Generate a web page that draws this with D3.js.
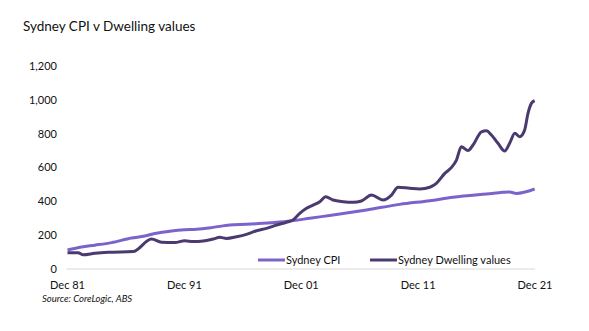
<!DOCTYPE html>
<html>
<head>
<meta charset="utf-8">
<script src="https://cdn.jsdelivr.net/npm/d3@7"></script>
<style>
    body { margin: 0; background: #fff; }
    svg text { font-family: Lato, "Open Sans", sans-serif; fill: #111; }
</style>
</head>
<body>
<svg id="chart"></svg>
<script>
// Sydney CPI, index (decimal year, value)
const cpiYears = [1981.96, 1983.16, 1984.30, 1985.72, 1987.44, 1988.57, 1989.43, 1990.86, 1991.99, 1993.00,
    1994.42, 1995.85, 1997.27, 1998.69, 2000.13, 2001.26, 2002.69, 2004.68, 2007.54, 2010.39,
    2012.96, 2014.95, 2017.80, 2019.79, 2020.37, 2021.93];
const cpiValues = [112, 130, 141, 156, 183, 195, 210, 225, 232, 235,
    246, 260, 264, 270, 278, 286, 300, 319, 349, 382,
    404, 424, 443, 455, 447, 473];

// Sydney dwelling values, index (decimal year, value)
const dwellingYears = [1981.96, 1982.87, 1983.30, 1984.30, 1985.43, 1987.57, 1989.15, 1990.00, 1991.14, 1991.99,
    1992.71, 1993.57, 1994.42, 1994.99, 1995.57, 1996.42, 1997.27, 1998.13, 1998.99, 1999.85,
    2000.69, 2001.26, 2001.83, 2002.41, 2002.97, 2003.55, 2004.05, 2004.68, 2005.54, 2006.40,
    2007.11, 2007.97, 2008.96, 2009.68, 2010.24, 2011.24, 2012.10, 2012.96, 2013.52, 2014.24,
    2014.82, 2015.24, 2015.66, 2016.23, 2016.66, 2017.38, 2017.80, 2018.23, 2018.79, 2019.37,
    2019.79, 2020.23, 2020.65, 2021.07, 2021.36, 2021.65, 2021.93];
const dwellingValues = [96, 96, 84, 93, 99, 103, 177, 158, 156, 167,
    162, 165, 177, 187, 181, 191, 205, 226, 240, 260,
    276, 290, 329, 359, 378, 398, 427, 408, 398, 394,
    402, 437, 408, 437, 483, 477, 473, 483, 506, 565,
    601, 644, 723, 700, 733, 811, 817, 792, 743, 697,
    743, 802, 782, 821, 920, 979, 995];

// axis labels
const yTicks = [0, 200, 400, 600, 800, 1000, 1200];
const xTickYears = [1981.96, 1991.96, 2001.96, 2011.96, 2021.96];
const xTickLabels = ['Dec 81', 'Dec 91', 'Dec 01', 'Dec 11', 'Dec 21'];

const seriesNames = ['Sydney CPI', 'Sydney Dwelling values'];
const seriesColors = ['#7c63cc', '#4b3a70'];

const width = 589, height = 331;

const svg = d3.select('#chart')
    .attr('width', width)
    .attr('height', height);

const xScale = d3.scaleLinear()
    .domain([1981.96, 2021.96])
    .range([67.5, 535]);

const yScale = d3.scaleLinear()
    .domain([0, 1200])
    .range([269, 66]);

// title
svg.append('text')
    .attr('x', 23)
    .attr('y', 31)
    .style('font-size', '13.5px')
    .text('Sydney CPI v Dwelling values');

// y axis labels (no axis line)
svg.append('g')
    .selectAll('text')
    .data(yTicks)
    .join('text')
    .attr('x', 57)
    .attr('y', d => yScale(d))
    .attr('dy', '0.35em')
    .attr('text-anchor', 'end')
    .style('font-size', '11px')
    .text(d => d3.format(',')(d));

// baseline at zero
svg.append('line')
    .attr('x1', xScale(xTickYears[0]) - 1)
    .attr('x2', xScale(xTickYears[xTickYears.length - 1]))
    .attr('y1', yScale(0))
    .attr('y2', yScale(0))
    .attr('stroke', '#d9d9d9')
    .attr('stroke-width', 1);

// x axis labels
svg.append('g')
    .selectAll('text')
    .data(xTickYears)
    .join('text')
    .attr('x', d => xScale(d))
    .attr('y', 289)
    .attr('text-anchor', 'middle')
    .style('font-size', '11px')
    .text((d, i) => xTickLabels[i]);

const line = d3.line()
    .x(d => xScale(d[0]))
    .y(d => yScale(d[1]))
    .curve(d3.curveMonotoneX);

const series = [
    d3.zip(cpiYears, cpiValues),
    d3.zip(dwellingYears, dwellingValues)
];

svg.append('g')
    .selectAll('path')
    .data(series)
    .join('path')
    .attr('fill', 'none')
    .attr('stroke', (d, i) => seriesColors[i])
    .attr('stroke-width', 3)
    .attr('stroke-linejoin', 'round')
    .attr('d', line);

// legend
const legendX = [258, 370];
const legend = svg.append('g')
    .selectAll('g')
    .data(seriesNames)
    .join('g')
    .attr('transform', (d, i) => `translate(${legendX[i]},260)`);

legend.append('line')
    .attr('x1', 0)
    .attr('x2', 27)
    .attr('stroke', (d, i) => seriesColors[i])
    .attr('stroke-width', 3);

legend.append('text')
    .attr('x', 28)
    .attr('dy', '0.35em')
    .style('font-size', '11px')
    .text(d => d);

// source note
svg.append('text')
    .attr('x', 42)
    .attr('y', 302)
    .style('font-size', '9.5px')
    .style('font-style', 'italic')
    .text('Source:  CoreLogic, ABS');
</script>
</body>
</html>
